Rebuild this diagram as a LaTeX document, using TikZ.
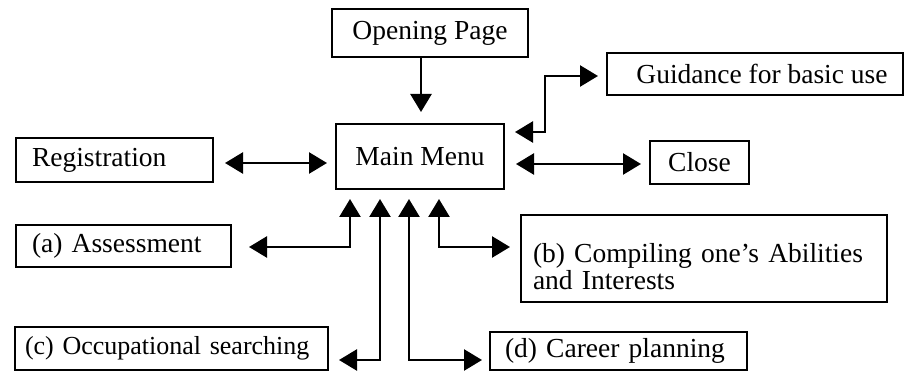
\documentclass[tikz,border=0pt]{standalone}
\usepackage{fontspec}
\setmainfont{Liberation Serif}
\usetikzlibrary{arrows.meta}
\begin{document}
\begin{tikzpicture}[x=1pt,y=-1pt,
  box/.style={draw, line width=2pt, inner sep=0pt, font=\fontsize{27.5}{27}\selectfont},
  cbox/.style={box, minimum width=#1},
  lbox/.style 2 args={box, text width=#1-2*#2, inner xsep=#2, align=left},
  tipshape/.tip={Triangle[length=18pt,width=21pt]},
  conn/.style={line width=2.6pt},
  one/.style={conn, -tipshape},
  two/.style={conn, tipshape-tipshape}
]
\useasboundingbox (0,0) rectangle (904,371);

\node[cbox=196pt, minimum height=48pt] (open) at (430,33) {Opening Page};
\node[cbox=168pt, minimum height=65pt] (main) at (420,156.5) {Main Menu};
\node[lbox={197pt}{16pt}, minimum height=44pt] (reg) at (114.5,160) {Registration};
\node[cbox=99pt, minimum height=43pt] (close) at (699.5,162.5) {Close};
\node[cbox=296pt, minimum height=42pt] (guide) at (755,74) {\hspace*{14pt}Guidance for basic use};
\node[lbox={215pt}{16pt}, minimum height=42pt] (assess) at (123.5,246) {(a) Assessment};
\node[lbox={366pt}{12pt}, minimum height=87pt] (comp) at (704,258.5) {\rule{0pt}{36pt}(b) Compiling one’s Abilities\\and Interests};
\node[lbox={313pt}{10pt}, minimum height=43pt, font=\fontsize{26}{27}\selectfont] (occ) at (171.5,348.5) {\mbox{(c) Occupational searching}};
\node[lbox={257pt}{15pt}, minimum height=38pt] (career) at (618.5,351) {(d) Career planning};

% Opening -> Main
\draw[one, shorten >=11pt] ([xshift=-9pt]open.south) -- ([xshift=1pt]main.north);
% Main <-> Guidance
\draw[two, shorten <=10pt, shorten >=8pt] ([yshift=-9pt]main.north east) -- ++(40,0) |- ([yshift=-2pt]guide.west);
% Registration <-> Main
\draw[two, shorten <=11pt, shorten >=8pt] ([yshift=-3pt]reg.east) -- ([yshift=-3pt]reg.east -| main.west);
% Main <-> Close
\draw[two, shorten <=11pt, shorten >=8pt] ([yshift=-1.5pt]close.west -| main.east) -- ([yshift=-1.5pt]close.west);
% bottom connectors
\draw[two, shorten <=9pt, shorten >=17pt] ([xshift=15pt]main.south west) |- ([yshift=-1pt]assess.east);
\draw[two, shorten <=9pt, shorten >=10pt] ([xshift=104pt]main.south west) |- ([yshift=11.5pt]comp.west);
\draw[two, shorten <=9pt, shorten >=10pt] ([xshift=45pt]main.south west) |- ([yshift=-11.5pt]occ.east);
\draw[two, shorten <=9pt, shorten >=7pt] ([xshift=74pt]main.south west) |- ([yshift=-9pt]career.west);
\end{tikzpicture}
\end{document}
